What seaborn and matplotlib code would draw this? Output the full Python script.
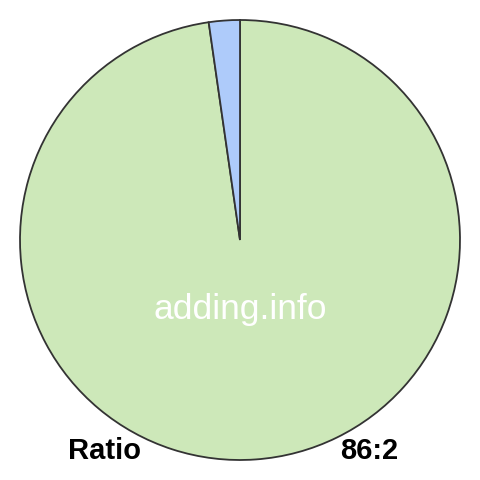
import matplotlib
matplotlib.use("Agg")
import matplotlib.pyplot as plt
import seaborn as sns

labels = ["86", "2"]
values = [86, 2]
colors = ["#cde8b9", "#aecbfa"]
ratio_text = "86:2"
watermark = "adding.info"

sns.set_theme(style="white")
plt.rcParams["font.family"] = ["Liberation Sans", "DejaVu Sans"]

fig = plt.figure(figsize=(4.8, 4.8), dpi=100)
ax = fig.add_axes([20 / 480, 20 / 480, 440 / 480, 440 / 480])

# green first going clockwise from the top, blue ends just left of 12 o'clock
ax.pie(values, colors=colors, startangle=90, counterclock=False, radius=1,
       wedgeprops=dict(edgecolor="#333333", linewidth=1.3))
ax.set_xlim(-1, 1)
ax.set_ylim(-1, 1)
ax.set_aspect("equal")
ax.axis("off")

fig.text(0.5, 1 - 309 / 480, watermark, color="white", fontsize=25.5,
         ha="center", va="center")
fig.text(68 / 480, 1 - 451 / 480, "Ratio", fontsize=21, fontweight="bold",
         ha="left", va="center", color="black")
fig.text(398 / 480, 1 - 451 / 480, ratio_text, fontsize=21, fontweight="bold",
         ha="right", va="center", color="black")

fig.savefig("out.png", dpi=100, facecolor="white")
